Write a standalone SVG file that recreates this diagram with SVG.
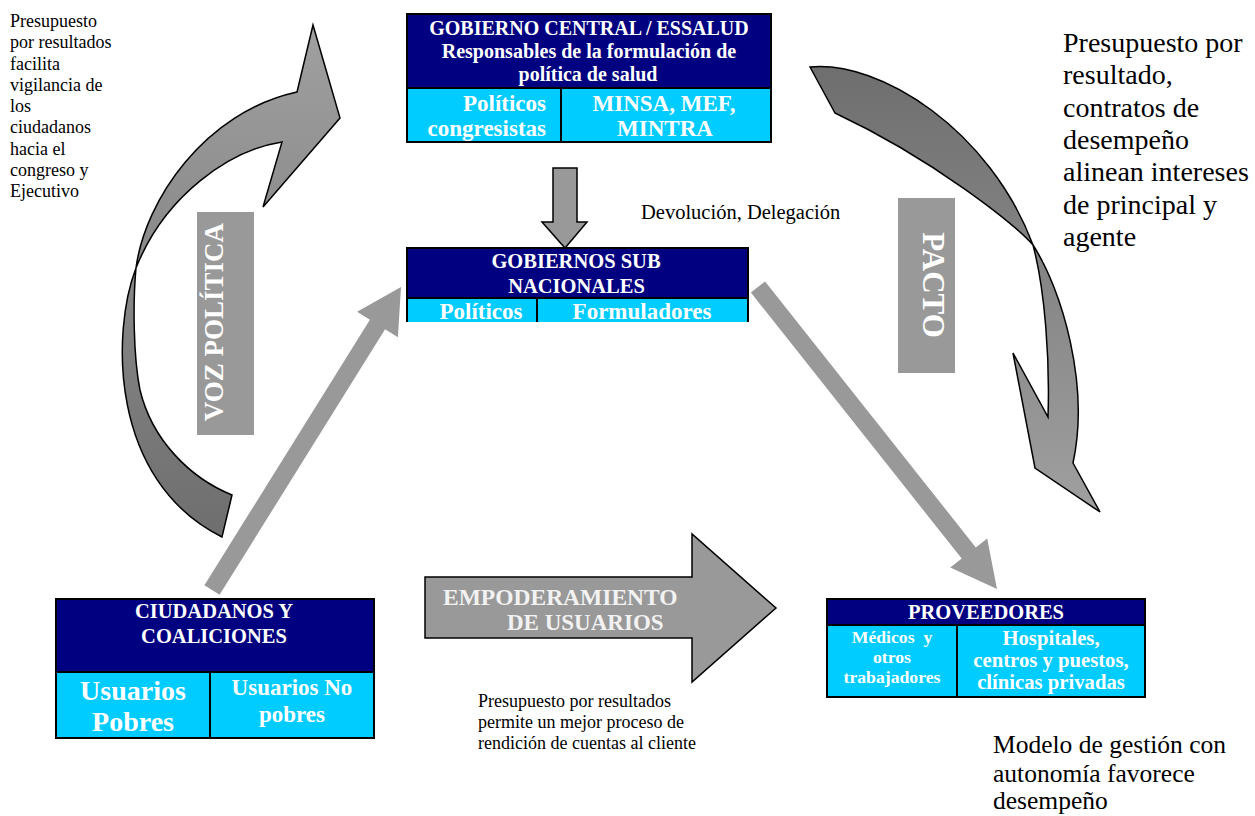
<svg xmlns="http://www.w3.org/2000/svg" width="1255" height="816" viewBox="0 0 1255 816">
<style>
.nv{fill:#000080}
.cy{fill:#00CCFF}
.ln{stroke:#000;stroke-width:2;fill:none}
.bt{font-family:"Liberation Serif","Times New Roman",serif;font-weight:bold;fill:#fff;text-anchor:middle}
.nt{font-family:"Liberation Serif","Times New Roman",serif;fill:#000}
.lab{fill:#999999}
.sa{fill:#999999}
.ba{fill:#999999;stroke:#000;stroke-width:1.5;stroke-linejoin:miter}
.ca{stroke:#000;stroke-width:1.5;stroke-linejoin:miter}
</style>
<defs>
<linearGradient id="gL" x1="0" y1="537" x2="0" y2="25" gradientUnits="userSpaceOnUse">
<stop offset="0" stop-color="#6e6e6e"/><stop offset="1" stop-color="#a0a0a0"/>
</linearGradient>
<linearGradient id="gR" x1="0" y1="62" x2="0" y2="515" gradientUnits="userSpaceOnUse">
<stop offset="0" stop-color="#6e6e6e"/><stop offset="1" stop-color="#a0a0a0"/>
</linearGradient>
</defs>
<rect width="1255" height="816" fill="#fff"/>

<g id="connectors">
<path id="voz-arrow" class="ca" fill="url(#gL)" d="M232,495 C190,478 152,440 140,390 C133,355 133,300 136,268 C145,200 205,112 297,92 L313,25 L340,118 L263,207 L282,142 C230,150 165,195 136,268 C112,330 108,480 222,537 Z"/>
<path id="pacto-arrow" class="ca" fill="url(#gR)" d="M810,67 C880,60 990,130 1033,245 C1062,290 1090,385 1073,463 L1100,512 L1035,468 L1013,353 L1048,417 C1050,360 1045,290 1033,245 C1015,225 935,160 835,113 Z"/>
<rect x="1043" y="22" width="212" height="240" fill="#fff"/>
<rect x="177" y="208" width="80" height="232" fill="#fff"/>
<rect class="lab" x="197" y="212" width="57" height="223"/>
<text class="bt" font-size="27" transform="translate(223,322) rotate(-90)">VOZ POLÍTICA</text>
<rect class="lab" x="898" y="198" width="57" height="175"/>
<text class="bt" font-size="31" transform="translate(923,285) rotate(90)">PACTO</text>
<polygon id="down-arrow" class="ba" points="553,168 577,168 577,222 587,222 565,248 542,222 553,222"/>
<polygon id="arrow-ciud-sub" class="sa" points="204.4,585.2 369.9,319.7 357.1,311.8 401,287 397.9,337.2 385.1,329.3 219.6,594.8"/>
<polygon id="arrow-sub-prov" class="sa" points="750.9,292.6 765.1,281.4 975.8,547.4 987.2,538.4 997,589 950.3,567.6 961.7,558.6"/>
<polygon id="empoderamiento-arrow" class="ba" points="425,577 692,577 692,534 776,608 692,682 692,638 425,638"/>
<text font-family="Liberation Serif, serif" font-weight="bold" font-size="23.5" fill="#f2f2f2" x="443" y="605">EMPODERAMIENTO</text>
<text font-family="Liberation Serif, serif" font-weight="bold" font-size="23" fill="#f2f2f2" x="507" y="630">DE USUARIOS</text>
<text class="nt" font-size="20.5" x="641" y="219">Devolución, Delegación</text>
</g>

<g id="gobierno-central">
<rect class="nv" x="407" y="14" width="364" height="74"/>
<rect class="cy" x="407" y="88" width="364" height="54"/>
<rect class="ln" x="407" y="14" width="364" height="128"/>
<line class="ln" x1="407" y1="88" x2="771" y2="88"/>
<line class="ln" x1="561" y1="88" x2="561" y2="142"/>
<text class="bt" font-size="20" x="589" y="35">GOBIERNO CENTRAL / ESSALUD</text>
<text class="bt" font-size="20" x="589" y="58">Responsables de la formulación de</text>
<text class="bt" font-size="20" x="588" y="81">política de salud</text>
<text class="bt" font-size="23" x="546" y="111" style="text-anchor:end">Políticos</text>
<text class="bt" font-size="23" x="546" y="136" style="text-anchor:end">congresistas</text>
<text class="bt" font-size="23" x="664" y="111">MINSA, MEF,</text>
<text class="bt" font-size="23" x="665" y="136">MINTRA</text>
</g>

<g id="gobiernos-sub">
<rect class="nv" x="407" y="248" width="341" height="50"/>
<rect class="cy" x="407" y="298" width="341" height="24"/>
<path class="ln" d="M407,322 V248 H748 V322"/>
<line class="ln" x1="407" y1="298" x2="748" y2="298"/>
<line class="ln" x1="537" y1="298" x2="537" y2="322"/>
<text class="bt" font-size="20.5" x="576" y="268">GOBIERNOS SUB</text>
<text class="bt" font-size="20.5" x="576.5" y="293">NACIONALES</text>
<text class="bt" font-size="23" x="481" y="319">Políticos</text>
<text class="bt" font-size="23" x="642" y="319">Formuladores</text>
</g>

<g id="ciudadanos">
<rect class="nv" x="56" y="599" width="318" height="73"/>
<rect class="cy" x="56" y="672" width="318" height="66"/>
<rect class="ln" x="56" y="599" width="318" height="139"/>
<line class="ln" x1="56" y1="672" x2="374" y2="672"/>
<line class="ln" x1="210" y1="672" x2="210" y2="738"/>
<text class="bt" font-size="20.5" x="214" y="618">CIUDADANOS Y</text>
<text class="bt" font-size="20.5" x="214" y="643">COALICIONES</text>
<text class="bt" font-size="28" x="133" y="700">Usuarios</text>
<text class="bt" font-size="28" x="133" y="731">Pobres</text>
<text class="bt" font-size="23" x="292" y="695">Usuarios No</text>
<text class="bt" font-size="23" x="292" y="722">pobres</text>
</g>

<g id="proveedores">
<rect class="nv" x="827" y="599" width="318" height="26"/>
<rect class="cy" x="827" y="625" width="318" height="72"/>
<rect class="ln" x="827" y="599" width="318" height="98"/>
<line class="ln" x1="827" y1="625" x2="1145" y2="625"/>
<line class="ln" x1="957" y1="625" x2="957" y2="697"/>
<text class="bt" font-size="20.5" x="986" y="619">PROVEEDORES</text>
<text class="bt" font-size="17.7" x="892" y="643" xml:space="preserve">Médicos  y</text>
<text class="bt" font-size="17.7" x="892" y="663">otros</text>
<text class="bt" font-size="17.7" x="892" y="683">trabajadores</text>
<text class="bt" font-size="20.7" x="1051" y="645">Hospitales,</text>
<text class="bt" font-size="20.7" x="1051" y="667">centros y puestos,</text>
<text class="bt" font-size="20.7" x="1051" y="689">clínicas privadas</text>
</g>

<g id="nota-izquierda" class="nt" font-size="18">
<text x="10" y="27">Presupuesto</text>
<text x="10" y="48.3">por resultados</text>
<text x="10" y="69.5">facilita</text>
<text x="10" y="90.8">vigilancia de</text>
<text x="10" y="112">los</text>
<text x="10" y="133.3">ciudadanos</text>
<text x="10" y="154.5">hacia el</text>
<text x="10" y="175.8">congreso y</text>
<text x="10" y="197">Ejecutivo</text>
</g>

<g id="nota-derecha" class="nt" font-size="28">
<text x="1063" y="52">Presupuesto por</text>
<text x="1063" y="84.3">resultado,</text>
<text x="1063" y="116.6">contratos de</text>
<text x="1063" y="148.9">desempeño</text>
<text x="1063" y="181.2">alinean intereses</text>
<text x="1063" y="213.5">de principal y</text>
<text x="1063" y="245.8">agente</text>
</g>

<g id="nota-centro" class="nt" font-size="18">
<text x="478" y="707">Presupuesto por resultados</text>
<text x="478" y="728">permite un mejor proceso de</text>
<text x="478" y="749">rendición de cuentas al cliente</text>
</g>

<g id="nota-abajo" class="nt" font-size="25.5">
<text x="993" y="753">Modelo de gestión con</text>
<text x="993" y="781.5">autonomía favorece</text>
<text x="993" y="809">desempeño</text>
</g>
</svg>
